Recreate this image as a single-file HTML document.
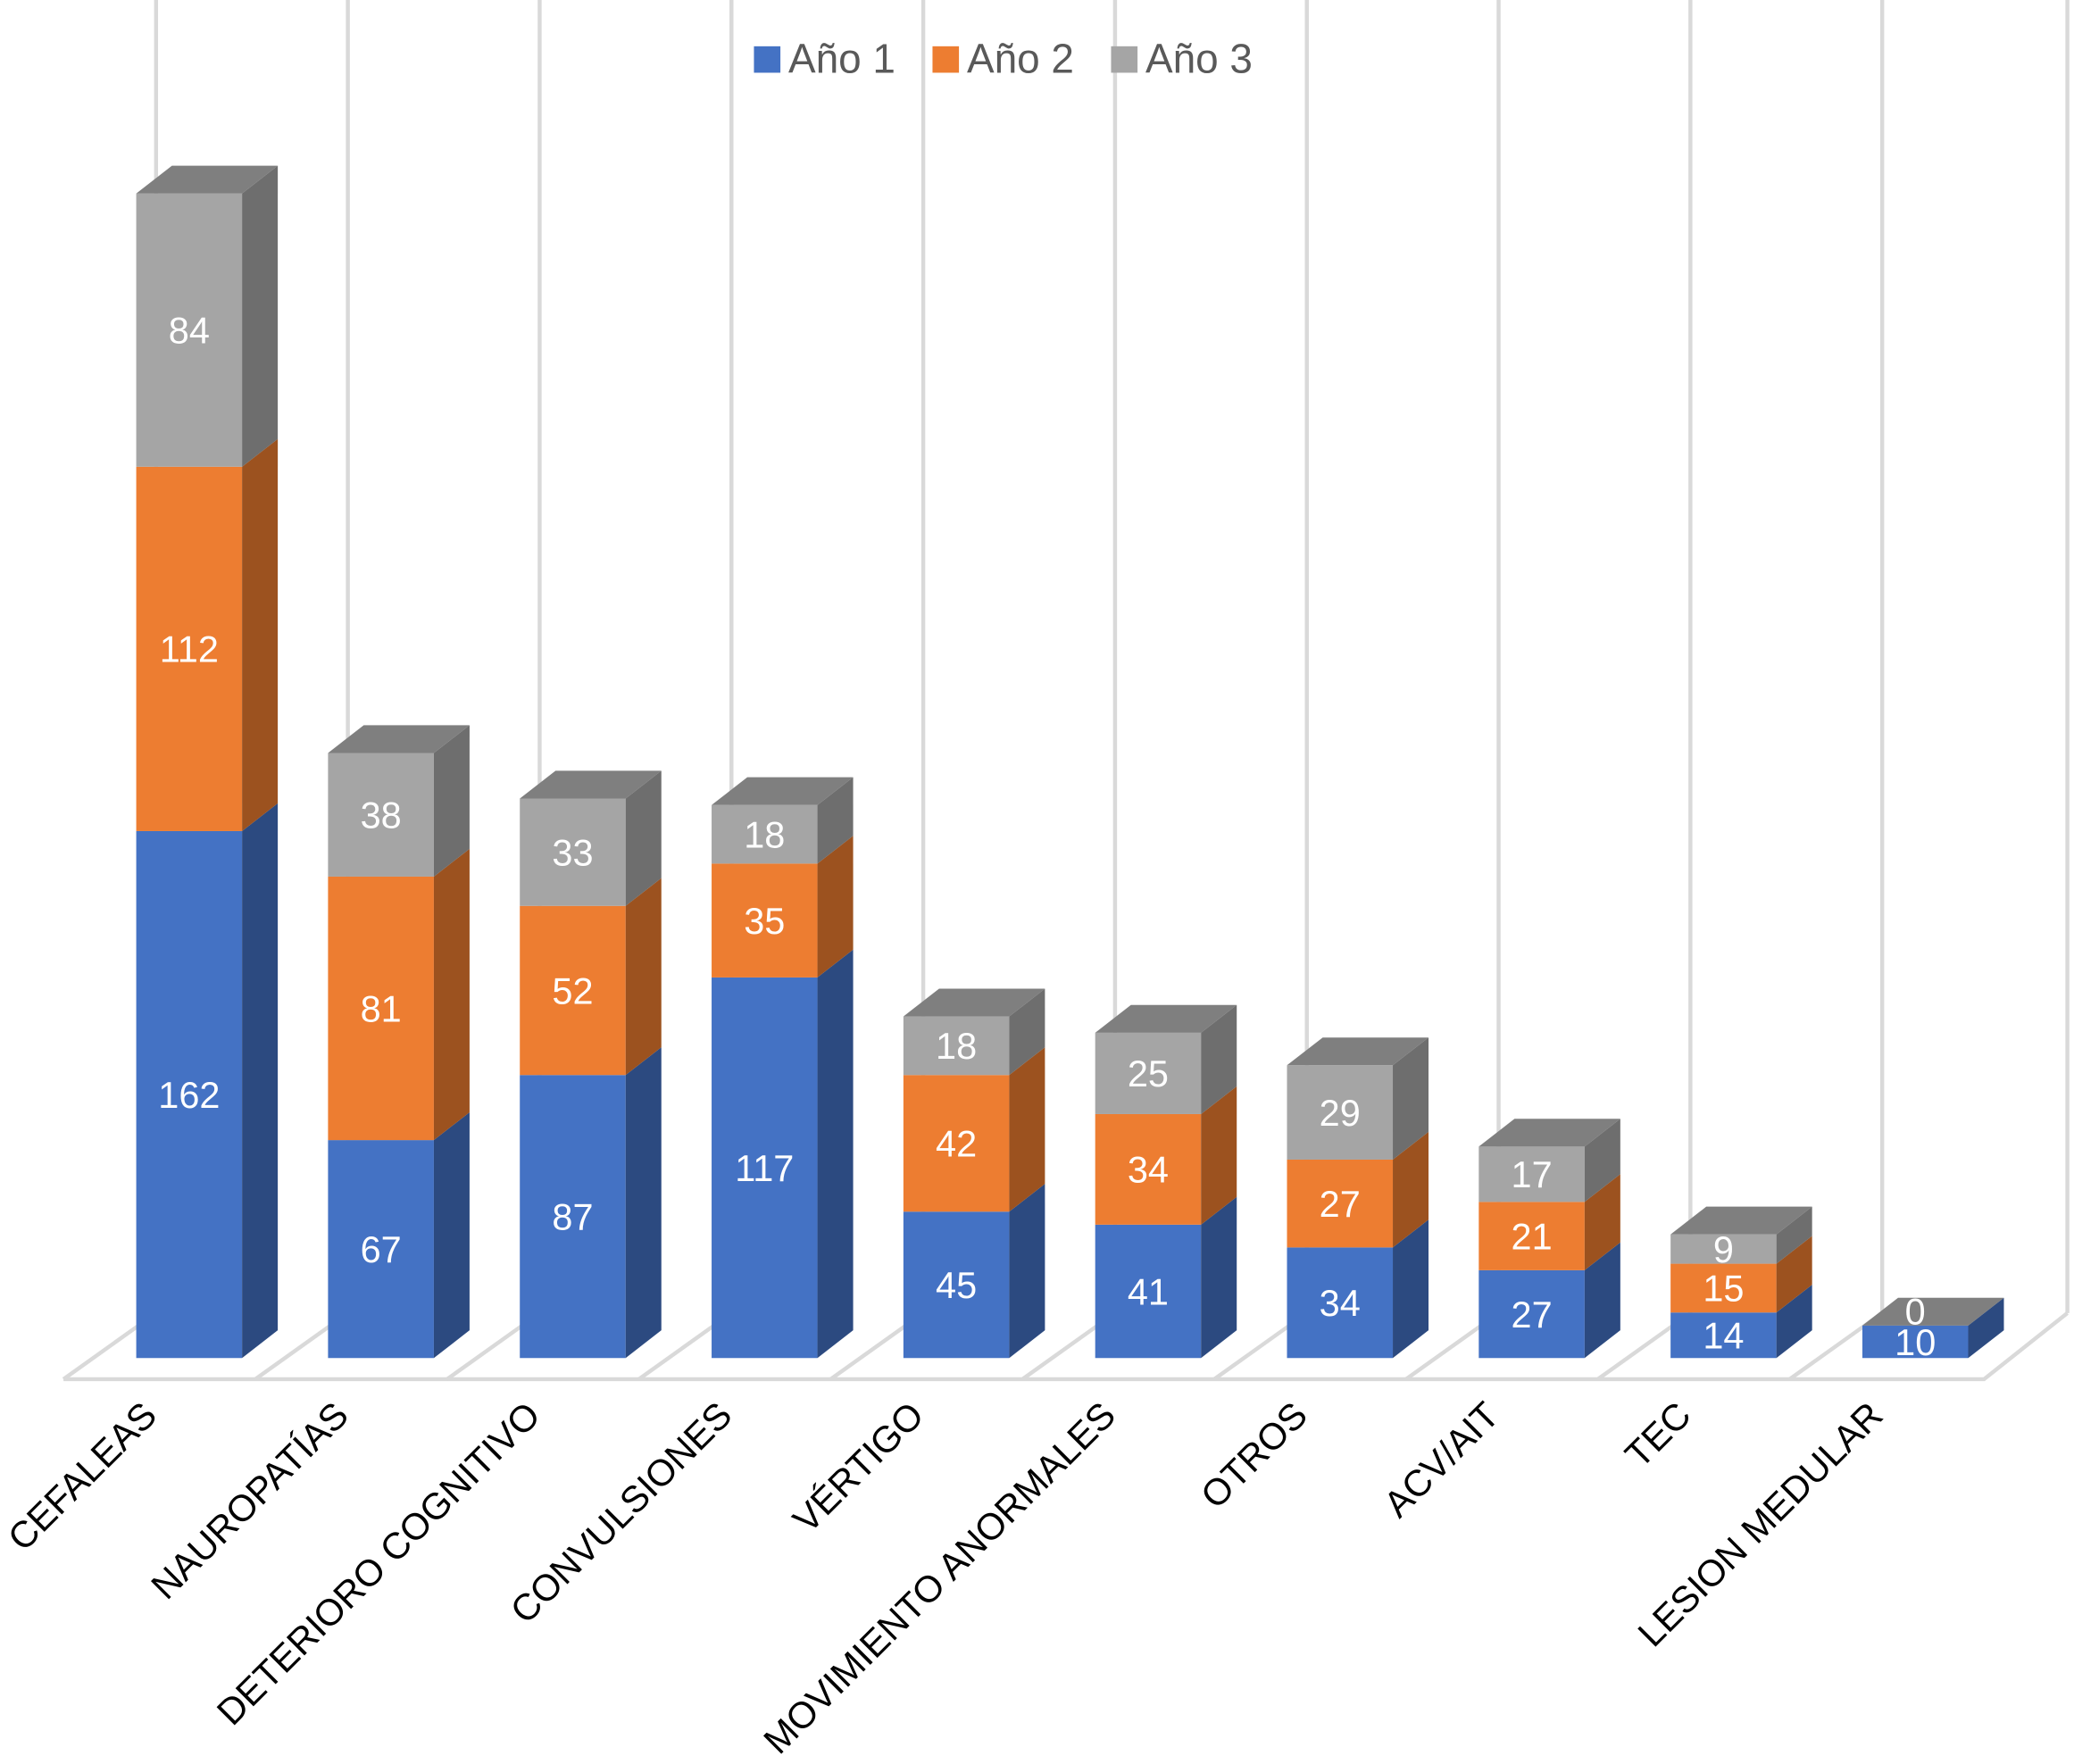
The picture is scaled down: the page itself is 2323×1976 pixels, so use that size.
<!DOCTYPE html>
<html><head><meta charset="utf-8"><style>
html,body{margin:0;padding:0;background:#fff;}
svg{display:block;font-family:"Liberation Sans",Arial,sans-serif;}
</style></head><body>
<svg id="chart" width="2323" height="1976" viewBox="0 0 1568 1334" preserveAspectRatio="none" xmlns="http://www.w3.org/2000/svg">
<g id="grid"></g>
<g id="bars"></g>
<g id="labels"></g>
<g id="xlabels"></g>
<g id="legend"></g>
</svg>
<script>
const categories = ["CEFALEAS","NAUROPATÍAS","DETERIORO COGNITIVO","CONVULSIONES","VÉRTIGO","MOVIMIENTO ANORMALES","OTROS","ACV/AIT","TEC","LESION MEDULAR"];
const year1 = [162,67,87,117,45,41,34,27,14,10];
const year2 = [112,81,52,35,42,34,27,21,15,0];
const year3 = [84,38,33,18,18,25,29,17,9,0];
const seriesNames = ["Año 1","Año 2","Año 3"];

const NS="http://www.w3.org/2000/svg";
function mk(tag,attrs,parent){const e=document.createElementNS(NS,tag);for(const k in attrs)e.setAttribute(k,attrs[k]);parent.appendChild(e);return e;}
const fronts=["#4472C4","#ED7D31","#A5A5A5"];
const sides=["#2C4A80","#9C521F","#6E6E6E"];
const step=145, x0=103, bw=80, dx=27, dy=-21, base=1027, scale=2.46;
function xPos(i){return x0+i*step;}
function yPos(v){return base-v*scale;}

const grid=document.getElementById('grid');
const fl=mk('polyline',{points:"48,1043 1500,1043 1563,993",fill:"none",stroke:"#D9D9D9","stroke-width":3},grid);


for(let i=0;i<=10;i++){
  const fx=48+i*step, bx=118+i*step;
  const pts = i<10 ? `${bx},0 ${bx},993 ${fx},1043` : `1563,0 1563,993`;
  const g=mk('polyline',{points:pts,fill:"none",stroke:"#D9D9D9","stroke-width":3},grid);
  
  
}

const bars=document.getElementById('bars'), labels=document.getElementById('labels'), xl=document.getElementById('xlabels');
const series=[year1,year2,year3];
categories.forEach((c,i)=>{
  let cum=0;
  const x=xPos(i);
  const total=year1[i]+year2[i]+year3[i];
  series.forEach((s,k)=>{
    const v=s[i];
    const yb=yPos(cum), yt=yPos(cum+v);
    const f=mk('rect',{x:x,y:yt,width:bw,height:yb-yt,fill:fronts[k]},bars);
    
    
    const sd=mk('polygon',{points:`${x+bw},${yb} ${x+bw+dx},${yb+dy} ${x+bw+dx},${yt+dy} ${x+bw},${yt}`,fill:sides[k]},bars);
    
    
    const ly = v>0 ? (yb+yt)/2+10 : yt-1;
    if(v>0 || k==2){
      const t=mk('text',{x:x+bw/2,y:ly,"text-anchor":"middle","font-size":28,fill:"#fff"},labels);
      t.textContent=v;
      
      
    }
    cum+=v;
  });
  const yt=yPos(total);
  const tp=mk('polygon',{points:`${x},${yt} ${x+dx},${yt+dy} ${x+bw+dx},${yt+dy} ${x+bw},${yt}`,fill:"#7F7F7F"},bars);
  
  
  const lx=120+i*step, lyy=1072;
  const t=mk('text',{x:lx,y:lyy,"text-anchor":"end","font-size":28,fill:"#000",transform:`rotate(-45 ${lx} ${lyy})`},xl);
  t.textContent=c;
  
  
});
bars.parentNode.appendChild(labels);

const lg=document.getElementById('legend');
const lx=[570,705,840];
seriesNames.forEach((n,k)=>{
  const r=mk('rect',{x:lx[k],y:35,width:20,height:20,fill:fronts[k]},lg);
  
  
  const t=mk('text',{x:lx[k]+26,y:55,"font-size":31,fill:"#595959"},lg);
  t.textContent=n;
  
  
});
</script>
</body></html>
